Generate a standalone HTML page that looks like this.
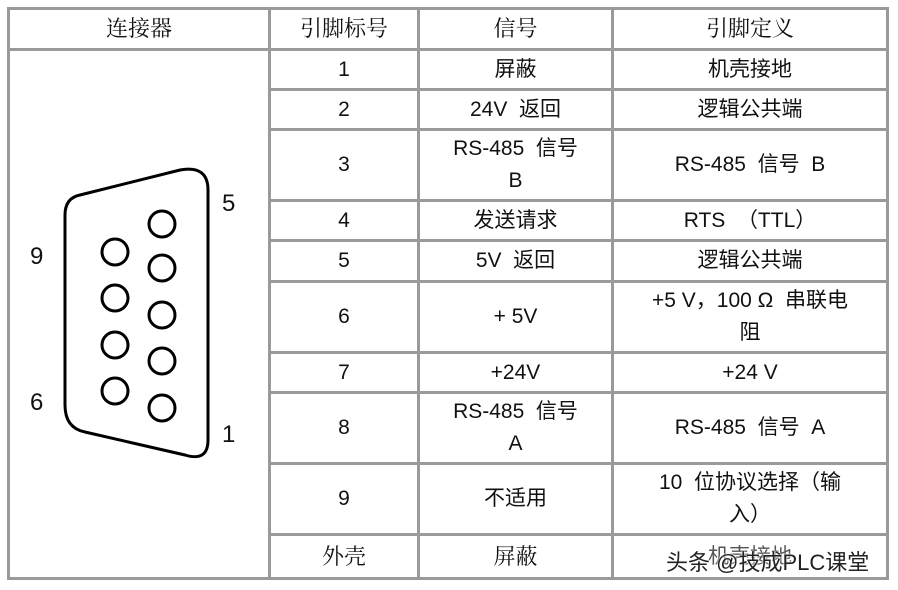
<!DOCTYPE html>
<html><head><meta charset="utf-8"><style>
body{margin:0;width:898px;height:590px;background:#fff;position:relative;overflow:hidden;font-family:"Liberation Sans","Noto Sans CJK SC",sans-serif;color:#111}
.c{position:absolute;display:flex;align-items:center;justify-content:center;text-align:center;font-size:21px;line-height:32px}
.s{font-family:"Liberation Serif","Noto Serif CJK SC",serif;font-size:22px}
.h{position:absolute;background:#9a9a9a}
</style></head><body>
<!-- grid -->
<div class="h" style="left:7px;top:7px;width:882px;height:3px"></div>
<div class="h" style="left:7px;top:48px;width:882px;height:3px"></div>
<div class="h" style="left:268px;top:88px;width:621px;height:3px"></div>
<div class="h" style="left:268px;top:128px;width:621px;height:3px"></div>
<div class="h" style="left:268px;top:199px;width:621px;height:3px"></div>
<div class="h" style="left:268px;top:239px;width:621px;height:3px"></div>
<div class="h" style="left:268px;top:280px;width:621px;height:3px"></div>
<div class="h" style="left:268px;top:351px;width:621px;height:3px"></div>
<div class="h" style="left:268px;top:391px;width:621px;height:3px"></div>
<div class="h" style="left:268px;top:462px;width:621px;height:3px"></div>
<div class="h" style="left:268px;top:533px;width:621px;height:3px"></div>
<div class="h" style="left:7px;top:577px;width:882px;height:3px"></div>
<div class="h" style="left:7px;top:7px;width:3px;height:573px"></div>
<div class="h" style="left:268px;top:7px;width:3px;height:573px"></div>
<div class="h" style="left:417px;top:7px;width:3px;height:573px"></div>
<div class="h" style="left:611px;top:7px;width:3px;height:573px"></div>
<div class="h" style="left:886px;top:7px;width:3px;height:573px"></div>

<div class="c s" style="left:10px;top:10px;width:258px;height:38px">连接器</div>
<div class="c s" style="left:271px;top:10px;width:146px;height:38px">引脚标号</div>
<div class="c s" style="left:420px;top:10px;width:191px;height:38px">信号</div>
<div class="c s" style="left:614px;top:10px;width:272px;height:38px">引脚定义</div>

<div class="c" style="left:271px;top:51px;width:146px;height:37px">1</div>
<div class="c" style="left:420px;top:51px;width:191px;height:37px">屏蔽</div>
<div class="c" style="left:614px;top:51px;width:272px;height:37px">机壳接地</div>

<div class="c" style="left:271px;top:91px;width:146px;height:37px">2</div>
<div class="c" style="left:420px;top:91px;width:191px;height:37px">24V&nbsp; 返回</div>
<div class="c" style="left:614px;top:91px;width:272px;height:37px">逻辑公共端</div>

<div class="c" style="left:271px;top:131px;width:146px;height:68px">3</div>
<div class="c" style="left:420px;top:131px;width:191px;height:68px">RS-485&nbsp; 信号<br>B</div>
<div class="c" style="left:614px;top:131px;width:272px;height:68px">RS-485&nbsp; 信号&nbsp; B</div>

<div class="c" style="left:271px;top:202px;width:146px;height:37px">4</div>
<div class="c" style="left:420px;top:202px;width:191px;height:37px">发送请求</div>
<div class="c" style="left:614px;top:202px;width:272px;height:37px">RTS&nbsp; （TTL）</div>

<div class="c" style="left:271px;top:242px;width:146px;height:38px">5</div>
<div class="c" style="left:420px;top:242px;width:191px;height:38px">5V&nbsp; 返回</div>
<div class="c" style="left:614px;top:242px;width:272px;height:38px">逻辑公共端</div>

<div class="c" style="left:271px;top:283px;width:146px;height:68px">6</div>
<div class="c" style="left:420px;top:283px;width:191px;height:68px">+ 5V</div>
<div class="c" style="left:614px;top:283px;width:272px;height:68px">+5 V，100 Ω&nbsp; 串联电<br>阻</div>

<div class="c" style="left:271px;top:354px;width:146px;height:37px">7</div>
<div class="c" style="left:420px;top:354px;width:191px;height:37px">+24V</div>
<div class="c" style="left:614px;top:354px;width:272px;height:37px">+24 V</div>

<div class="c" style="left:271px;top:394px;width:146px;height:68px">8</div>
<div class="c" style="left:420px;top:394px;width:191px;height:68px">RS-485&nbsp; 信号<br>A</div>
<div class="c" style="left:614px;top:394px;width:272px;height:68px">RS-485&nbsp; 信号&nbsp; A</div>

<div class="c" style="left:271px;top:465px;width:146px;height:68px">9</div>
<div class="c" style="left:420px;top:465px;width:191px;height:68px">不适用</div>
<div class="c" style="left:614px;top:465px;width:272px;height:68px">10&nbsp; 位协议选择（输<br>入）</div>

<div class="c s" style="left:271px;top:536px;width:146px;height:41px">外壳</div>
<div class="c s" style="left:420px;top:536px;width:191px;height:41px">屏蔽</div>
<div class="c" style="left:614px;top:536px;width:272px;height:41px;color:#555">机壳接地</div>
<div style="position:absolute;left:666px;top:545px;font-size:22px;color:#222;text-shadow:0 0 2px #fff,0 0 2px #fff">头条 @技成PLC课堂</div>

<svg style="position:absolute;left:0;top:0" width="898" height="590">
<path d="M80,195 L180,170 Q208,165 208,190 L208,440 Q208,462 185,455 L85,432 Q65,428 65,405 L65,215 Q65,198 80,195 Z" fill="none" stroke="#000" stroke-width="3"/>
<g fill="none" stroke="#000" stroke-width="3">
<circle cx="115" cy="252" r="13"/><circle cx="115" cy="298" r="13"/><circle cx="115" cy="345" r="13"/><circle cx="115" cy="391" r="13"/>
<circle cx="162" cy="224" r="13"/><circle cx="162" cy="268" r="13"/><circle cx="162" cy="315" r="13"/><circle cx="162" cy="361" r="13"/><circle cx="162" cy="408" r="13"/>
</g>
<g font-family="Liberation Sans" font-size="24" fill="#111">
<text x="222" y="211">5</text><text x="30" y="264">9</text><text x="30" y="410">6</text><text x="222" y="442">1</text>
</g>
</svg>
</body></html>
